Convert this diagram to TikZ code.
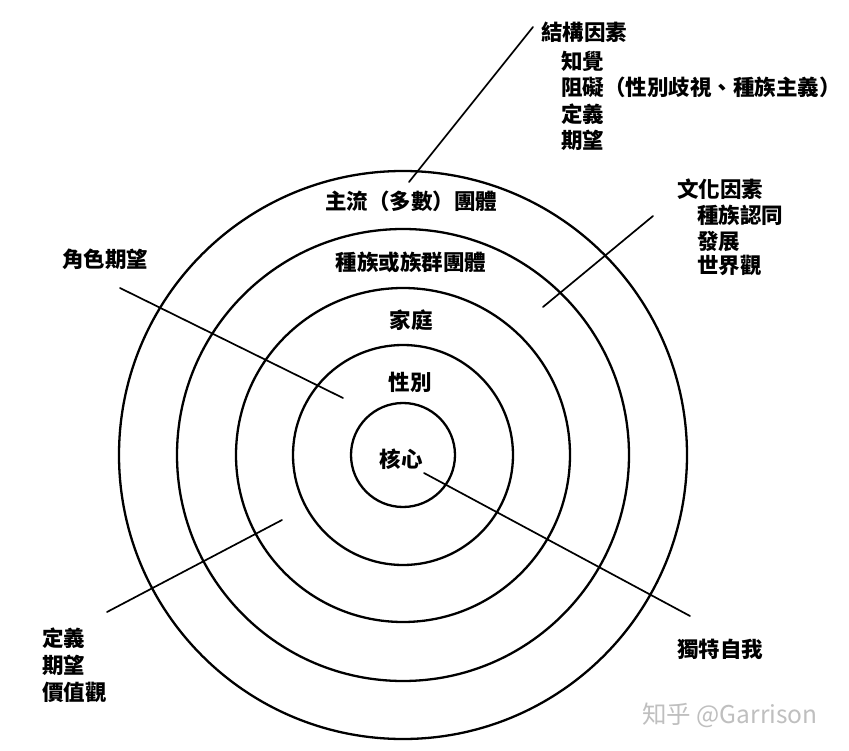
\documentclass[tikz,border=0pt]{standalone}
\usepackage{fontspec}
\newfontfamily\cjk{Noto Sans CJK TC}
\newfontfamily\wmfont{Noto Sans CJK SC}
\begin{document}
\begin{tikzpicture}[x=1pt,y=-1pt,
  ring/.style={draw=black,line width=2.3pt},
  conn/.style={draw=black,line width=1.7pt,line cap=round},
  lbl/.style={inner sep=0pt,font=\cjk\bfseries\fontsize{21.5}{25}\selectfont},
  llbl/.style={lbl,anchor=west},
  wm/.style={inner sep=0pt,anchor=west,text=black!25,font=\wmfont\fontsize{24.5}{28}\selectfont}]
\useasboundingbox[fill=white] (0,0) rectangle (849,751);
% rings
\coordinate (c) at (403,455);
\draw[ring] (c) circle[radius=284];
\draw[ring] (c) circle[radius=226];
\draw[ring] (c) circle[radius=167];
\draw[ring] (c) circle[radius=110];
\draw[ring] (c) circle[radius=52];
% ring labels
\node[lbl] (main) at (411,201) {主流（多數）團體};
\node[lbl] (ethnic) at (411,262) {種族或族群團體};
\node[lbl] (family) at (411,320) {家庭};
\node[lbl] (gender) at (410,382) {性別};
\node[lbl] (core) at (401,459) {核心};
% structural factors
\node[llbl] (s1) at (541,32) {結構因素};
\node[llbl] (s2) at (561,61) {知覺};
\node[llbl] (s3) at (561,87) {阻礙（性別歧視、種族主義）};
\node[llbl] (s4) at (561,114) {定義};
\node[llbl] (s5) at (561,140) {期望};
% cultural factors
\node[llbl] (k1) at (677,189) {文化因素};
\node[llbl] (k2) at (697,215) {種族認同};
\node[llbl] (k3) at (697,241) {發展};
\node[llbl] (k4) at (697,265) {世界觀};
% role expectations
\node[llbl] (role) at (62,259) {角色期望};
% lower left
\node[llbl] (d1) at (42,638) {定義};
\node[llbl] (d2) at (42,665) {期望};
\node[llbl] (d3) at (42,692) {價值觀};
% unique self
\node[llbl] (self) at (677,649) {獨特自我};
% watermark
\node[wm] (wmark) at (642,715) {知乎 @Garrison};
% connectors
\coordinate (sA) at (533,27);
\coordinate (sB) at (409,182);
\draw[conn] (sA) -- (sB);
\coordinate (kA) at (653,216);
\coordinate (kB) at (543,307);
\draw[conn] (kA) -- (kB);
\coordinate (rA) at (120,288);
\coordinate (rB) at (343,398);
\draw[conn] (rA) -- (rB);
\coordinate (dA) at (107,612);
\coordinate (dB) at (282,520);
\draw[conn] (dA) -- (dB);
\coordinate (uA) at (424,473);
\coordinate (uB) at (690,616);
\draw[conn] (uA) -- (uB);
\end{tikzpicture}
\end{document}
